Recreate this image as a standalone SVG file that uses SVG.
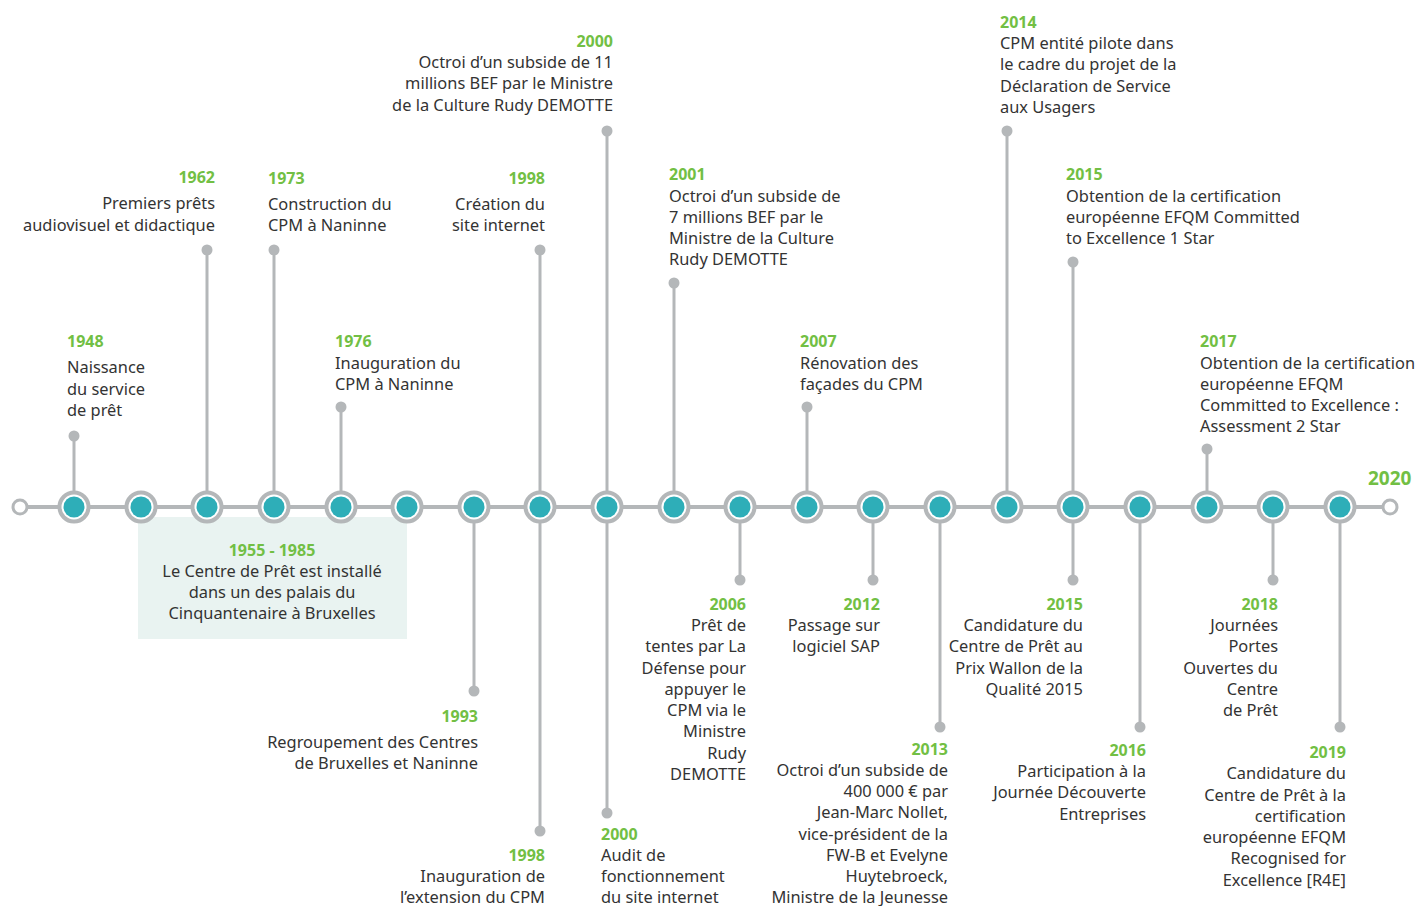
<svg xmlns="http://www.w3.org/2000/svg" width="1423" height="906" viewBox="0 0 1423 906">
<style>
text{font-family:"Noto Sans","Open Sans","Liberation Sans",sans-serif;font-size:16.4px;fill:#333}
.y{font-weight:bold;fill:#72bf44;font-size:16px}
.r{text-anchor:end}
.c{text-anchor:middle}
.ln{stroke:#b4b7b9;stroke-width:3;fill:none}
.dot{fill:#b4b7b9}
.ring{fill:#fff;stroke:#b4b7b9;stroke-width:4}
.core{fill:#2eaeb8}
</style>
<defs>
<g id="nd"><circle class="ring" r="14.5"/><circle class="core" r="10.5"/></g>
</defs>
<rect x="138" y="517" width="269" height="122" fill="#e9f3f1"/>
<g id="connectors">
<line class="ln" x1="20" y1="507" x2="1390" y2="507" style="stroke-width:4"/>
<line class="ln" x1="74" y1="436" x2="74" y2="507"/><circle class="dot" cx="74" cy="436" r="5.5"/>
<line class="ln" x1="207" y1="250" x2="207" y2="507"/><circle class="dot" cx="207" cy="250" r="5.5"/>
<line class="ln" x1="274" y1="250" x2="274" y2="507"/><circle class="dot" cx="274" cy="250" r="5.5"/>
<line class="ln" x1="341" y1="407" x2="341" y2="507"/><circle class="dot" cx="341" cy="407" r="5.5"/>
<line class="ln" x1="540" y1="250" x2="540" y2="831"/><circle class="dot" cx="540" cy="250" r="5.5"/><circle class="dot" cx="540" cy="831" r="5.5"/>
<line class="ln" x1="607" y1="131" x2="607" y2="813"/><circle class="dot" cx="607" cy="131" r="5.5"/><circle class="dot" cx="607" cy="813" r="5.5"/>
<line class="ln" x1="674" y1="283" x2="674" y2="507"/><circle class="dot" cx="674" cy="283" r="5.5"/>
<line class="ln" x1="807" y1="407" x2="807" y2="507"/><circle class="dot" cx="807" cy="407" r="5.5"/>
<line class="ln" x1="1007" y1="131" x2="1007" y2="507"/><circle class="dot" cx="1007" cy="131" r="5.5"/>
<line class="ln" x1="1073" y1="262" x2="1073" y2="580"/><circle class="dot" cx="1073" cy="262" r="5.5"/><circle class="dot" cx="1073" cy="580" r="5.5"/>
<line class="ln" x1="1207" y1="449" x2="1207" y2="507"/><circle class="dot" cx="1207" cy="449" r="5.5"/>
<line class="ln" x1="474" y1="507" x2="474" y2="691"/><circle class="dot" cx="474" cy="691" r="5.5"/>
<line class="ln" x1="740" y1="507" x2="740" y2="580"/><circle class="dot" cx="740" cy="580" r="5.5"/>
<line class="ln" x1="873" y1="507" x2="873" y2="580"/><circle class="dot" cx="873" cy="580" r="5.5"/>
<line class="ln" x1="940" y1="507" x2="940" y2="727"/><circle class="dot" cx="940" cy="727" r="5.5"/>
<line class="ln" x1="1140" y1="507" x2="1140" y2="727"/><circle class="dot" cx="1140" cy="727" r="5.5"/>
<line class="ln" x1="1273" y1="507" x2="1273" y2="580"/><circle class="dot" cx="1273" cy="580" r="5.5"/>
<line class="ln" x1="1340" y1="507" x2="1340" y2="727"/><circle class="dot" cx="1340" cy="727" r="5.5"/>
</g>
<g id="axis-nodes">
<circle cx="20" cy="507" r="7" fill="#fff" stroke="#b4b7b9" stroke-width="3"/>
<circle cx="1390" cy="507" r="7" fill="#fff" stroke="#b4b7b9" stroke-width="3"/>
<use href="#nd" x="74" y="507"/><use href="#nd" x="141" y="507"/><use href="#nd" x="207" y="507"/><use href="#nd" x="274" y="507"/><use href="#nd" x="341" y="507"/><use href="#nd" x="407" y="507"/><use href="#nd" x="474" y="507"/><use href="#nd" x="540" y="507"/><use href="#nd" x="607" y="507"/><use href="#nd" x="674" y="507"/><use href="#nd" x="740" y="507"/><use href="#nd" x="807" y="507"/><use href="#nd" x="873" y="507"/><use href="#nd" x="940" y="507"/><use href="#nd" x="1007" y="507"/><use href="#nd" x="1073" y="507"/><use href="#nd" x="1140" y="507"/><use href="#nd" x="1207" y="507"/><use href="#nd" x="1273" y="507"/><use href="#nd" x="1340" y="507"/>
</g>
<g id="e1948"><text class="y" x="67" y="347">1948</text><text x="67" y="373">Naissance</text><text x="67" y="395">du service</text><text x="67" y="416">de prêt</text></g>
<g id="e1962"><text class="y r" x="215" y="183">1962</text><text class="r" x="215" y="209">Premiers prêts</text><text class="r" x="215" y="231">audiovisuel et didactique</text></g>
<g id="e1973"><text class="y" x="268" y="184">1973</text><text x="268" y="210">Construction du</text><text x="268" y="231">CPM à Naninne</text></g>
<g id="e1976"><text class="y" x="335" y="347">1976</text><text x="335" y="369">Inauguration du</text><text x="335" y="390">CPM à Naninne</text></g>
<g id="e1998a"><text class="y r" x="545" y="184">1998</text><text class="r" x="545" y="210">Création du</text><text class="r" x="545" y="231">site internet</text></g>
<g id="e2000a"><text class="y r" x="613" y="47">2000</text><text class="r" x="613" y="68">Octroi d’un subside de 11</text><text class="r" x="613" y="89">millions BEF par le Ministre</text><text class="r" x="613" y="111">de la Culture Rudy DEMOTTE</text></g>
<g id="e2001"><text class="y" x="669" y="180">2001</text><text x="669" y="202">Octroi d’un subside de</text><text x="669" y="223">7 millions BEF par le</text><text x="669" y="244">Ministre de la Culture</text><text x="669" y="265">Rudy DEMOTTE</text></g>
<g id="e2007"><text class="y" x="800" y="347">2007</text><text x="800" y="369">Rénovation des</text><text x="800" y="390">façades du CPM</text></g>
<g id="e2014"><text class="y" x="1000" y="28">2014</text><text x="1000" y="49">CPM entité pilote dans</text><text x="1000" y="70">le cadre du projet de la</text><text x="1000" y="92">Déclaration de Service</text><text x="1000" y="113">aux Usagers</text></g>
<g id="e2015a"><text class="y" x="1066" y="180">2015</text><text x="1066" y="202">Obtention de la certification</text><text x="1066" y="223">européenne EFQM Committed</text><text x="1066" y="244">to Excellence 1 Star</text></g>
<g id="e2017"><text class="y" x="1200" y="347">2017</text><text x="1200" y="369">Obtention de la certification</text><text x="1200" y="390">européenne EFQM</text><text x="1200" y="411">Committed to Excellence :</text><text x="1200" y="432">Assessment 2 Star</text></g>
<g id="e2020"><text class="y" x="1368" y="485" style="font-size:19px">2020</text></g>
<g id="e1955"><text class="y c" x="272" y="556">1955 - 1985</text><text class="c" x="272" y="577">Le Centre de Prêt est installé</text><text class="c" x="272" y="598">dans un des palais du</text><text class="c" x="272" y="619">Cinquantenaire à Bruxelles</text></g>
<g id="e1993"><text class="y r" x="478" y="722">1993</text><text class="r" x="478" y="748">Regroupement des Centres</text><text class="r" x="478" y="769">de Bruxelles et Naninne</text></g>
<g id="e1998b"><text class="y r" x="545" y="861">1998</text><text class="r" x="545" y="882">Inauguration de</text><text class="r" x="545" y="903">l’extension du CPM</text></g>
<g id="e2000b"><text class="y" x="601" y="840">2000</text><text x="601" y="861">Audit de</text><text x="601" y="882">fonctionnement</text><text x="601" y="903">du site internet</text></g>
<g id="e2006"><text class="y r" x="746" y="610">2006</text><text class="r" x="746" y="631">Prêt de</text><text class="r" x="746" y="652">tentes par La</text><text class="r" x="746" y="674">Défense pour</text><text class="r" x="746" y="695">appuyer le</text><text class="r" x="746" y="716">CPM via le</text><text class="r" x="746" y="737">Ministre</text><text class="r" x="746" y="759">Rudy</text><text class="r" x="746" y="780">DEMOTTE</text></g>
<g id="e2012"><text class="y r" x="880" y="610">2012</text><text class="r" x="880" y="631">Passage sur</text><text class="r" x="880" y="652">logiciel SAP</text></g>
<g id="e2013"><text class="y r" x="948" y="755">2013</text><text class="r" x="948" y="776">Octroi d’un subside de</text><text class="r" x="948" y="797">400 000 € par</text><text class="r" x="948" y="818">Jean-Marc Nollet,</text><text class="r" x="948" y="840">vice-président de la</text><text class="r" x="948" y="861">FW-B et Evelyne</text><text class="r" x="948" y="882">Huytebroeck,</text><text class="r" x="948" y="903">Ministre de la Jeunesse</text></g>
<g id="e2015b"><text class="y r" x="1083" y="610">2015</text><text class="r" x="1083" y="631">Candidature du</text><text class="r" x="1083" y="652">Centre de Prêt au</text><text class="r" x="1083" y="674">Prix Wallon de la</text><text class="r" x="1083" y="695">Qualité 2015</text></g>
<g id="e2016"><text class="y r" x="1146" y="756">2016</text><text class="r" x="1146" y="777">Participation à la</text><text class="r" x="1146" y="798">Journée Découverte</text><text class="r" x="1146" y="820">Entreprises</text></g>
<g id="e2018"><text class="y r" x="1278" y="610">2018</text><text class="r" x="1278" y="631">Journées</text><text class="r" x="1278" y="652">Portes</text><text class="r" x="1278" y="674">Ouvertes du</text><text class="r" x="1278" y="695">Centre</text><text class="r" x="1278" y="716">de Prêt</text></g>
<g id="e2019"><text class="y r" x="1346" y="758">2019</text><text class="r" x="1346" y="779">Candidature du</text><text class="r" x="1346" y="801">Centre de Prêt à la</text><text class="r" x="1346" y="822">certification</text><text class="r" x="1346" y="843">européenne EFQM</text><text class="r" x="1346" y="864">Recognised for</text><text class="r" x="1346" y="886">Excellence [R4E]</text></g>
</svg>
